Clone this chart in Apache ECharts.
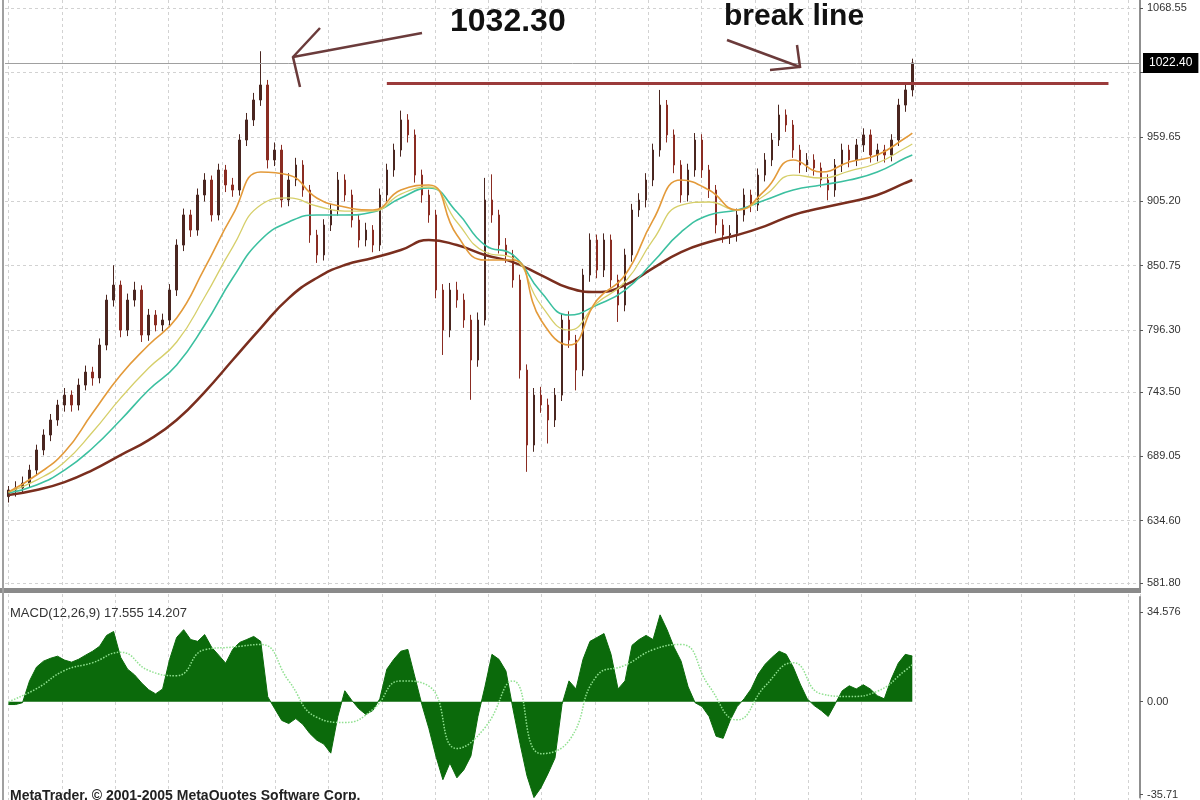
<!DOCTYPE html>
<html><head><meta charset="utf-8">
<script src="https://cdn.jsdelivr.net/npm/echarts@6/dist/echarts.min.js"></script>
<style>html,body{margin:0;padding:0;background:#fff}#c{width:1200px;height:800px}</style>
</head><body><div id="c"></div>
<script>
// ---------- data ----------
const categoryCount = 162;           // bar slots on the time axis (last ones empty: chart shift)

const opens = [
655.0,660.6,662.3,666.5,677.5,694.5,707.2,719.9,732.6,741.0,
732.6,749.5,760.5,755.5,783.4,821.5,834.2,796.1,821.5,830.0,
791.9,808.8,800.4,804.6,830.0,868.1,893.6,880.8,910.5,923.2,
893.6,931.7,919.0,914.7,957.1,974.1,991.0,1003.7,940.2,948.6,
906.3,923.2,935.9,914.7,876.6,859.7,885.1,897.8,923.2,910.5,
889.3,872.4,880.8,868.1,910.5,931.7,948.6,974.1,961.4,927.4,
910.5,893.6,830.0,796.1,830.0,821.5,804.6,770.7,804.6,906.3,
893.6,868.1,859.7,838.5,762.2,698.7,741.0,732.6,719.9,741.0,
804.6,787.6,762.2,842.7,872.4,846.9,872.4,838.5,817.3,859.7,
897.8,906.3,923.2,948.6,986.7,961.4,935.9,910.5,931.7,957.1,
931.7,914.7,885.1,876.6,878.0,893.6,910.5,902.0,927.4,940.2,
957.1,978.3,969.8,948.6,935.9,940.2,933.4,923.2,914.7,935.9,
948.6,940.2,952.9,961.4,944.4,948.6,944.4,957.1,986.7,999.5];

const closes = [
660.6,662.3,666.5,677.5,694.5,707.2,719.9,732.6,741.0,732.6,
749.5,760.5,755.5,783.4,821.5,834.2,796.1,821.5,830.0,791.9,
808.8,800.4,804.6,830.0,868.1,893.6,880.8,910.5,923.2,893.6,
931.7,919.0,914.7,957.1,974.1,991.0,1003.7,940.2,948.6,906.3,
923.2,935.9,914.7,876.6,859.7,885.1,897.8,923.2,910.5,889.3,
872.4,880.8,868.1,910.5,931.7,948.6,974.1,961.4,927.4,910.5,
893.6,830.0,796.1,830.0,821.5,804.6,770.7,804.6,906.3,893.6,
868.1,859.7,838.5,762.2,698.7,741.0,732.6,719.9,741.0,804.6,
787.6,762.2,842.7,872.4,846.9,872.4,838.5,817.3,859.7,897.8,
906.3,923.2,948.6,986.7,961.4,935.9,910.5,931.7,957.1,931.7,
914.7,885.1,876.6,878.0,893.6,910.5,902.0,927.4,940.2,957.1,
978.3,969.8,948.6,935.9,940.2,933.4,923.2,914.7,935.9,948.6,
940.2,952.9,961.4,944.4,948.6,944.4,957.1,986.7,999.5,1022.4];

const highs = [
664,668,672,682,699,712,725,737,747,745,
755,766,765,789,826,851,838,827,837,834,
814,813,810,835,873,899,898,916,929,927,
937,936,925,962,980,997,1032.3,1008,955,953,
929,942,940,919,881,890,903,930,928,915,
894,887,885,916,937,954,982,979,966,932,
915,898,835,836,837,827,809,811,925,928,
898,874,864,843,767,747,748,738,747,810,
812,792,848,878,877,878,877,843,865,903,
912,929,954,999.5,991,966,940,937,963,962,
936,919,890,885,899,916,915,933,946,963,
987,983,974,953,946,945,938,928,941,954,
953,958,967,966,954,953,962,992,1005,1026];

const lows = [
650,655,658,663,673,690,702,715,727,727,
728,745,749,751,779,816,790,791,816,786,
787,795,795,800,825,863,875,876,905,888,
889,913,909,910,952,969,986,933,935,900,
901,918,909,870,853,855,880,893,905,883,
866,867,862,863,905,926,943,955,921,904,
887,823,775,790,815,798,737,765,800,887,
861,853,832,755,676,693,726,700,714,736,
781,745,757,837,840,841,832,803,812,854,
892,900,918,943,955,929,904,905,926,925,
908,878,870,869,871,888,896,897,922,935,
952,964,942,929,930,927,917,906,909,930,
934,935,947,938,939,938,939,952,981,994];

// moving averages read at every 4th bar
const maIdx  = [0,4,8,12,16,20,24,28,32,36,40,44,48,52,56,60,64,68,72,76,80,84,88,92,96,100,104,108,112,116,120,124,128,129];
const maFast = [658.9,673.3,692.8,725.8,758.0,783.4,806.3,848.6,893.6,930.0,927.4,908.0,900.3,897.8,914.7,919.0,876.6,855.4,855.4,804.6,783.4,821.5,842.7,889.3,923.2,914.7,897.8,914.7,940.2,930.0,938.5,944.4,958.8,963.0];
const maMid  = [658.9,669.0,684.3,709.7,738.5,763.9,786.0,824.1,866.4,902.0,908.0,901.2,896.9,896.9,911.3,917.3,887.6,862.2,857.1,817.3,796.1,819.0,836.8,872.4,902.0,904.6,897.8,910.5,927.4,924.9,930.8,937.6,950.3,953.7];
const maTeal = [658.0,664.8,677.5,696.2,719.9,745.3,766.5,800.4,840.2,872.4,887.6,893.6,893.6,896.1,908.0,916.4,896.1,868.1,859.7,828.3,808.8,817.3,830.0,853.7,879.1,893.6,897.8,906.3,914.7,919.0,923.2,930.0,941.8,944.4];
const maSlow = [656.3,660.6,667.3,677.5,690.2,702.9,719.9,743.6,770.7,797.8,823.2,840.2,851.2,857.1,863.9,872.4,868.1,859.7,853.7,842.7,831.7,828.3,834.2,848.6,862.2,870.7,876.6,884.2,893.6,899.5,904.6,910.5,920.7,923.2];

// MACD histogram (one value per bar) and signal line (every 4th bar)
const macd = [
-1.1,-1.1,-0.4,8.0,13.3,15.6,16.7,17.5,16.0,15.2,
16.3,17.9,19.4,21.3,25.5,27.0,17.1,12.5,10.3,7.2,
4.6,3.0,4.9,16.3,24.7,27.7,23.9,23.2,25.8,20.9,
17.9,14.8,20.1,22.8,23.9,25.1,23.2,1.9,-2.7,-7.2,
-8.4,-6.5,-8.7,-12.2,-14.8,-16.3,-19.8,-5.7,4.2,0.5,
-2.7,-4.9,-3.4,1.1,12.5,16.3,19.4,20.1,9.5,-1.1,
-10.3,-20.9,-30.0,-23.6,-29.3,-26.2,-20.9,-5.7,5.7,18.2,
16.3,11.8,-2.7,-16.0,-28.5,-36.9,-33.1,-27.7,-21.7,-1.1,
8.0,4.9,16.3,23.2,24.7,26.2,18.2,4.9,8.0,21.7,
23.9,25.5,23.9,33.4,27.7,20.9,15.6,5.7,-0.4,-1.9,
-5.7,-13.3,-14.1,-7.2,-1.9,1.1,4.9,10.6,14.4,17.1,
19.4,18.2,13.3,6.8,1.1,-1.5,-3.4,-5.7,-0.8,4.2,
6.1,4.9,6.5,4.9,2.3,1.1,8.7,14.8,18.2,17.555];
const signal = [0,5,12,15,19,12,10,20,21,22,8,-6,-8,-3,8,6,-18,-10,8,-20,-15,10,14,20,22,6,-7,6,15,3,2,4,12,14.207];

// axis ticks and labels
const priceTicks  = [581.80,634.60,689.05,743.50,796.30,850.75,905.20,959.65,1014.10,1068.55];
const hiddenPriceTick = 1014.10;     // covered by the current-price box in the original
const macdTicks   = [-35.71,0,34.576];
const macdTickLabels = ['-35.71','0.00','34.576'];

// levels / annotations
const breakLevel = 1005.4;
const breakStart = '54', breakEnd = '157';
const peakLabel = '1032.30';
const breakLabel = 'break line';
const macdTitle = 'MACD(12,26,9) 17.555 14.207';
const copyright = 'MetaTrader, \u00a9 2001-2005 MetaQuotes Software Corp.';

// ---------- build chart ----------
const cats = [];
for (let i = 0; i < categoryCount; i++) cats.push(String(i));
const candleData = opens.map((o, i) => [o, closes[i], lows[i], highs[i]]);
const pairs = (idx, vals) => idx.map((x, k) => [x, vals[k]]);
const lastClose = closes[closes.length - 1];

const gridLine = {show: true, lineStyle: {color: '#d2d2d2', width: 1, type: [3, 3]}};
const hiddenCat = (g) => ({type: 'category', gridIndex: g, data: cats, boundaryGap: true,
  axisLine: {show: false}, axisTick: {show: false}, axisLabel: {show: false}, splitLine: {show: false}});
const maLine = (name, vals, color, width) => ({
  name, type: 'line', xAxisIndex: 0, yAxisIndex: 0, data: pairs(maIdx, vals),
  showSymbol: false, smooth: true, lineStyle: {color, width}, silent: true, z: 3
});

const chart = echarts.init(document.getElementById('c'));
chart.setOption({
  animation: false,
  backgroundColor: '#ffffff',
  textStyle: {fontFamily: '"Liberation Sans", Arial, sans-serif'},
  grid: [
    {left: 5, top: 0, width: 1135, height: 590},
    {left: 5, top: 597, width: 1135, height: 203},
    {left: 8.7, top: 0, width: 1131.3, height: 800}
  ],
  xAxis: [
    hiddenCat(0),
    hiddenCat(1),
    {type: 'value', gridIndex: 2, min: 0, max: 1131.3, interval: 53.3,
     axisLine: {show: false}, axisTick: {show: false}, axisLabel: {show: false}, splitLine: gridLine}
  ],
  yAxis: [
    {type: 'value', gridIndex: 0, position: 'right', min: 575.9, max: 1075.7,
     axisLine: {show: true, lineStyle: {color: '#8f8f8f', width: 2}},
     axisTick: {show: true, customValues: priceTicks, length: 3, lineStyle: {color: '#555'}},
     axisLabel: {customValues: priceTicks, color: '#333', fontSize: 11, margin: 7,
       formatter: v => Math.abs(v - hiddenPriceTick) < 1e-6 ? '' : v.toFixed(2)},
     splitLine: gridLine},
    {type: 'value', gridIndex: 1, position: 'right', min: -36.85, max: 40.27,
     axisLine: {show: true, lineStyle: {color: '#8f8f8f', width: 2}},
     axisTick: {show: true, customValues: macdTicks, length: 3, lineStyle: {color: '#555'}},
     axisLabel: {customValues: macdTicks, color: '#333', fontSize: 11, margin: 7,
       formatter: v => { const k = macdTicks.findIndex(t => Math.abs(t - v) < 1e-6); return k >= 0 ? macdTickLabels[k] : ''; }},
     splitLine: {show: false}},
    {type: 'value', gridIndex: 2, min: 0, max: 1, show: false}
  ],
  series: [
    {name: 'price', type: 'candlestick', xAxisIndex: 0, yAxisIndex: 0, data: candleData, barWidth: 2, silent: true, z: 2,
     itemStyle: {color: '#4a2620', color0: '#8a2c22', borderColor: '#4a2620', borderColor0: '#8a2c22', borderWidth: 1},
     markLine: {symbol: 'none', silent: true, animation: false,
       data: [
         {yAxis: lastClose, lineStyle: {color: '#a0a0a0', width: 1, type: 'solid'},
          label: {show: true, position: 'end', formatter: lastClose.toFixed(2), backgroundColor: '#000', color: '#fff',
                  fontSize: 12, padding: [4, 6], distance: 3}},
         [{coord: [breakStart, breakLevel], lineStyle: {color: '#9b3b3b', width: 3, type: 'solid'}, label: {show: false}},
          {coord: [breakEnd, breakLevel]}]
       ]}},
    maLine('ma-slow', maSlow, '#7a2e1e', 2.5),
    maLine('ma-teal', maTeal, '#3cc0a0', 1.6),
    maLine('ma-mid', maMid, '#d6cf6a', 1.3),
    maLine('ma-fast', maFast, '#e39a3a', 1.6),
    {name: 'MACD', type: 'line', xAxisIndex: 1, yAxisIndex: 1, data: macd, showSymbol: false, silent: true,
     lineStyle: {color: '#0b6a0b', width: 1}, areaStyle: {color: '#0b6a0b', opacity: 1, origin: 0}},
    {name: 'Signal', type: 'line', xAxisIndex: 1, yAxisIndex: 1, data: pairs(maIdx, signal), showSymbol: false,
     smooth: true, silent: true, z: 3, lineStyle: {color: '#8fe08f', width: 1.5, type: 'dotted'}}
  ],
  graphic: [
    {type: 'rect', z: 100, shape: {x: 0, y: 588, width: 1141, height: 5}, style: {fill: '#8a8a8a'}},
    {type: 'line', z: 100, shape: {x1: 3, y1: 0, x2: 3, y2: 800}, style: {stroke: '#a0a0a0', lineWidth: 2}},
    {type: 'text', z: 100, x: 450, y: 22, style: {text: peakLabel, font: 'bold 32px "Liberation Sans", Arial', fill: '#111', textVerticalAlign: 'middle'}},
    {type: 'polyline', z: 100, shape: {points: [[422, 33], [293, 57]]}, style: {stroke: '#6b3b3b', lineWidth: 2.5, fill: null}},
    {type: 'polyline', z: 100, shape: {points: [[320, 28], [293, 57], [300, 87]]}, style: {stroke: '#6b3b3b', lineWidth: 2.5, fill: null}},
    {type: 'text', z: 100, x: 724, y: 17, style: {text: breakLabel, font: 'bold 30px "Liberation Sans", Arial', fill: '#111', textVerticalAlign: 'middle'}},
    {type: 'polyline', z: 100, shape: {points: [[727, 40], [800, 67]]}, style: {stroke: '#6b3b3b', lineWidth: 2.5, fill: null}},
    {type: 'polyline', z: 100, shape: {points: [[797, 45], [800, 67], [770, 70]]}, style: {stroke: '#6b3b3b', lineWidth: 2.5, fill: null}},
    {type: 'text', z: 100, x: 10, y: 613, style: {text: macdTitle, font: '13px "Liberation Sans", Arial', fill: '#333', textVerticalAlign: 'middle'}},
    {type: 'text', z: 100, x: 10, y: 789, style: {text: copyright, font: 'bold 14px "Liberation Sans", Arial', fill: '#222'}}
  ]
});
</script>
</body></html>
